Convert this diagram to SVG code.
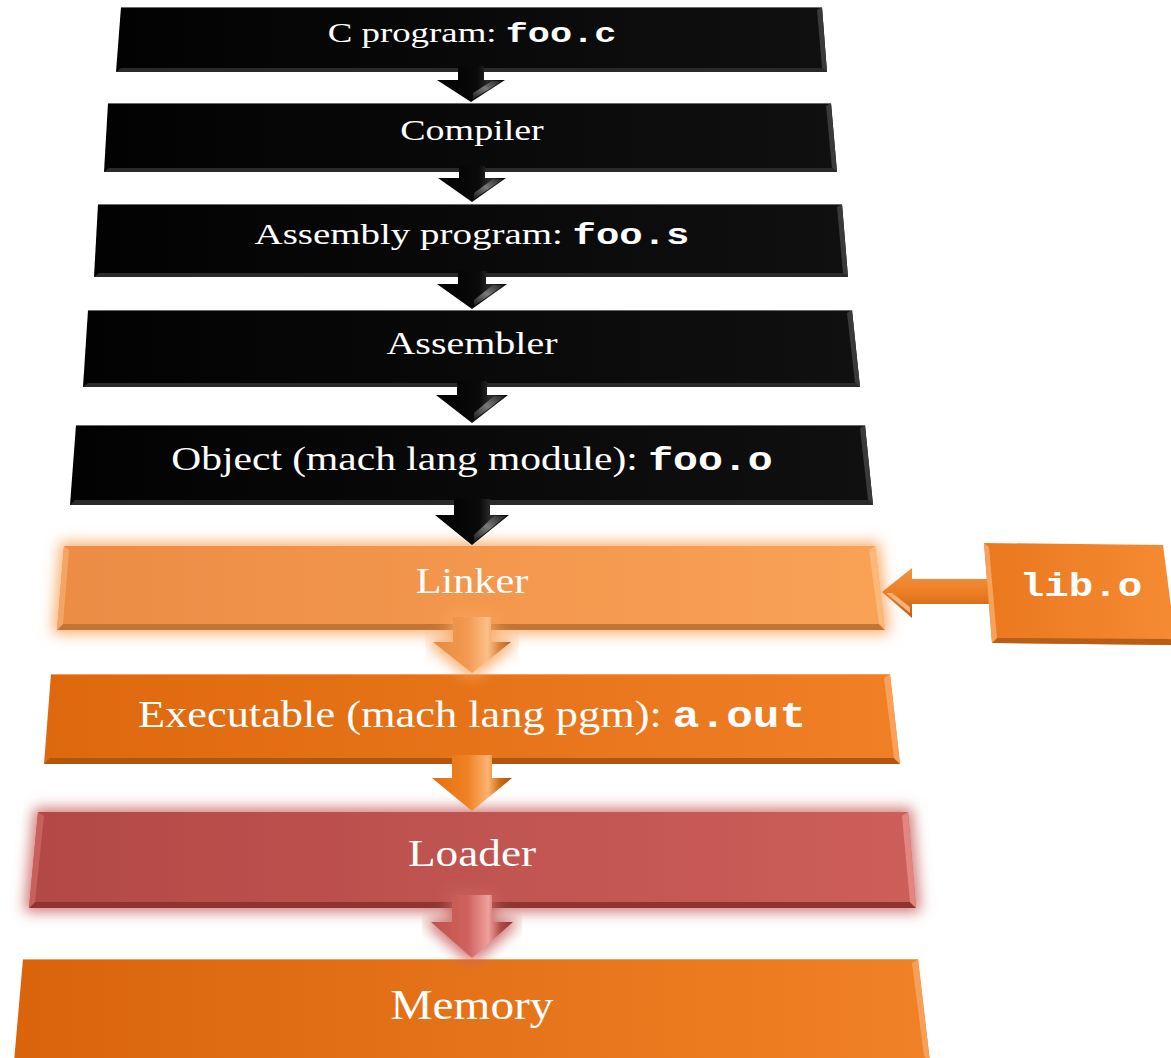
<svg xmlns="http://www.w3.org/2000/svg" width="1171" height="1058" viewBox="0 0 1171 1058">
<defs>
<style>
.t{font-family:"Liberation Serif","Times New Roman",serif;fill:#fff}
.m{font-family:"Liberation Mono","Courier New",monospace;font-weight:bold}
.bk{fill:url(#gBlack)}
.bkB{fill:#2a2a2a}
.bkR{fill:#3a3a3a}
.bkT{fill:none;stroke:#6a6a6a;stroke-width:1}
.arB{fill:url(#gArBlack)}
.hiB{fill:url(#gHiBlack)}
</style>
<linearGradient id="gBlack" x1="0" y1="0" x2="1" y2="0"><stop offset="0" stop-color="#020202"/><stop offset="1" stop-color="#101010"/></linearGradient>
<linearGradient id="gArBlack" x1="0" y1="0" x2="1" y2="0"><stop offset="0" stop-color="#000"/><stop offset="0.6" stop-color="#0a0a0a"/><stop offset="0.75" stop-color="#2a2a2a"/><stop offset="1" stop-color="#000"/></linearGradient>
<linearGradient id="gHiBlack" x1="0" y1="1" x2="1" y2="0"><stop offset="0" stop-color="#1a1a1a"/><stop offset="0.5" stop-color="#7a7a7a"/><stop offset="1" stop-color="#202020"/></linearGradient>
<linearGradient id="gLink" x1="0" y1="0" x2="1" y2="0"><stop offset="0" stop-color="#EC8C45"/><stop offset="1" stop-color="#F9A256"/></linearGradient>
<linearGradient id="gExe" x1="0" y1="0" x2="1" y2="0"><stop offset="0" stop-color="#DE680E"/><stop offset="1" stop-color="#F07F25"/></linearGradient>
<linearGradient id="gLoad" x1="0" y1="0" x2="1" y2="0"><stop offset="0" stop-color="#B34946"/><stop offset="1" stop-color="#CD5E5A"/></linearGradient>
<linearGradient id="gMem" x1="0" y1="0" x2="1" y2="0"><stop offset="0" stop-color="#D9640B"/><stop offset="1" stop-color="#F18126"/></linearGradient>
<linearGradient id="gLib" x1="0" y1="0" x2="1" y2="0"><stop offset="0" stop-color="#EA781E"/><stop offset="1" stop-color="#F58B33"/></linearGradient>
<linearGradient id="gArLink" x1="0" y1="0" x2="1" y2="0"><stop offset="0" stop-color="#E88A40"/><stop offset="0.45" stop-color="#F29A52"/><stop offset="0.7" stop-color="#FBC08A"/><stop offset="0.85" stop-color="#D9853E"/><stop offset="1" stop-color="#B5621E"/></linearGradient>
<linearGradient id="gArExe" x1="0" y1="0" x2="1" y2="0"><stop offset="0" stop-color="#E2700F"/><stop offset="0.45" stop-color="#F08225"/><stop offset="0.7" stop-color="#FBB470"/><stop offset="0.85" stop-color="#D06A14"/><stop offset="1" stop-color="#A8520C"/></linearGradient>
<linearGradient id="gArLoad" x1="0" y1="0" x2="1" y2="0"><stop offset="0" stop-color="#BF514E"/><stop offset="0.45" stop-color="#D0625E"/><stop offset="0.7" stop-color="#F0A09C"/><stop offset="0.85" stop-color="#B04A47"/><stop offset="1" stop-color="#8C3533"/></linearGradient>
<linearGradient id="gArLib" x1="0" y1="0" x2="0" y2="1"><stop offset="0" stop-color="#F39343"/><stop offset="0.5" stop-color="#EC7E24"/><stop offset="1" stop-color="#B85E15"/></linearGradient>
<filter id="glowO" x="-10%" y="-40%" width="120%" height="180%">
<feMorphology in="SourceAlpha" operator="dilate" radius="4" result="d"/>
<feGaussianBlur in="d" stdDeviation="7" result="b"/>
<feFlood flood-color="#F8A35C" flood-opacity="0.85"/>
<feComposite in2="b" operator="in" result="g"/>
<feMerge><feMergeNode in="g"/><feMergeNode in="SourceGraphic"/></feMerge>
</filter>
<filter id="glowR" x="-10%" y="-40%" width="120%" height="180%">
<feMorphology in="SourceAlpha" operator="dilate" radius="4" result="d"/>
<feGaussianBlur in="d" stdDeviation="7" result="b"/>
<feFlood flood-color="#C9625E" flood-opacity="0.85"/>
<feComposite in2="b" operator="in" result="g"/>
<feMerge><feMergeNode in="g"/><feMergeNode in="SourceGraphic"/></feMerge>
</filter>
</defs>
<rect width="1171" height="1058" fill="#fff"/>

<g id="node-cprog">
<polygon class="bk" points="121,7 822,7 827,72 116,72"/>
<polygon class="bkB" points="116,72 827,72 822,68 121,68"/>
<polygon class="bkR" points="822,7 827,72 822,68 817,10"/>
<line class="bkT" x1="121" y1="7.5" x2="822" y2="7.5"/>
<text class="t" font-size="27.5" text-anchor="middle" transform="translate(472,42) scale(1.34,1)">C program: <tspan class="m">foo.c</tspan></text>
</g>
<g id="node-compiler">
<polygon class="bk" points="108,103 831,103 837,172 104,172"/>
<polygon class="bkB" points="104,172 837,172 832,168 109,168"/>
<polygon class="bkR" points="831,103 837,172 832,168 826,106"/>
<line class="bkT" x1="108" y1="103.5" x2="831" y2="103.5"/>
<text class="t" font-size="29" text-anchor="middle" transform="translate(472,140) scale(1.31,1)">Compiler</text>
</g>
<g id="node-asmprog">
<polygon class="bk" points="98,204 842,204 848,277 94,277"/>
<polygon class="bkB" points="94,277 848,277 843,273 99,273"/>
<polygon class="bkR" points="842,204 848,277 843,273 837,207"/>
<line class="bkT" x1="98" y1="204.5" x2="842" y2="204.5"/>
<text class="t" font-size="30.2" text-anchor="middle" transform="translate(472,244) scale(1.29,1)">Assembly program: <tspan class="m">foo.s</tspan></text>
</g>
<g id="node-assembler">
<polygon class="bk" points="88,310 852,310 860,387 83,387"/>
<polygon class="bkB" points="83,387 860,387 855,383 88,383"/>
<polygon class="bkR" points="852,310 860,387 855,383 847,313"/>
<line class="bkT" x1="88" y1="310.5" x2="852" y2="310.5"/>
<text class="t" font-size="31.5" text-anchor="middle" transform="translate(472,354) scale(1.27,1)">Assembler</text>
</g>
<g id="node-object">
<polygon class="bk" points="76,425 865,425 873,505 70,505"/>
<polygon class="bkB" points="70,505 873,505 868,500 75,500"/>
<polygon class="bkR" points="865,425 873,505 868,500 860,428"/>
<line class="bkT" x1="76" y1="425.5" x2="865" y2="425.5"/>
<text class="t" font-size="33.2" text-anchor="middle" transform="translate(472,470) scale(1.25,1)">Object (mach lang module): <tspan class="m">foo.o</tspan></text>
</g>
<g id="node-linker">
<polygon fill="url(#gLink)" filter="url(#glowO)" points="64,546 875,546 885,630 57,630"/>
<polygon fill="#C27434" points="57,630 885,630 879,624 63,624"/>
<polygon fill="#FBB878" points="875,546 885,630 879,624 869,550"/>
<polygon fill="#F4A566" points="64,546 57,630 63,624 69,550"/>
<text class="t" font-size="35.5" text-anchor="middle" transform="translate(472,593) scale(1.19,1)">Linker</text>
</g>
<g id="node-exe">
<polygon fill="url(#gExe)" points="51,674 890,674 900,764 44,764"/>
<polygon fill="#B0560E" points="44,764 900,764 894,758 50,758"/>
<polygon fill="#F9A15A" points="890,674 900,764 894,758 884,678"/>
<line stroke="#F4A060" stroke-width="1" x1="51" y1="674.5" x2="890" y2="674.5"/>
<text class="t" font-size="37" text-anchor="middle" transform="translate(472,727) scale(1.2,1)">Executable (mach lang pgm): <tspan class="m">a.out</tspan></text>
</g>
<g id="node-loader">
<polygon fill="url(#gLoad)" filter="url(#glowR)" points="38,812 908,812 916,908 29,908"/>
<polygon fill="#8E3532" points="29,908 916,908 910,902 35,902"/>
<polygon fill="#E28680" points="908,812 916,908 910,902 902,816"/>
<polygon fill="#C8615D" points="38,812 29,908 35,902 44,816"/>
<text class="t" font-size="38" text-anchor="middle" transform="translate(472,866) scale(1.19,1)">Loader</text>
</g>
<g id="node-memory">
<polygon fill="url(#gMem)" points="23,959 918,959 930,1062 14,1062"/>
<polygon fill="#F6A057" points="918,959 930,1062 924,1056 912,963"/>
<line stroke="#F0A060" stroke-width="1" x1="23" y1="959.5" x2="918" y2="959.5"/>
<text class="t" font-size="41.5" text-anchor="middle" transform="translate(472,1019) scale(1.14,1)">Memory</text>
</g>

<g id="connectors">
<path class="arB" d="M458,66 L484,66 L484,80 L505,80 L471,102 L437,80 L458,80 Z"/>
<path class="hiB" d="M473,99 L502,81 L492,81 L473,93 Z"/>
<path class="arB" d="M459,166 L485,166 L485,178 L506,178 L472,202 L438,178 L459,178 Z"/>
<path class="hiB" d="M474,199 L503,179 L493,179 L474,193 Z"/>
<path class="arB" d="M458,271 L486,271 L486,284 L507,284 L472,309 L437,284 L458,284 Z"/>
<path class="hiB" d="M474,306 L504,285 L493,285 L474,300 Z"/>
<path class="arB" d="M457,381 L487,381 L487,395 L508,395 L472,423 L436,395 L457,395 Z"/>
<path class="hiB" d="M474,420 L505,396 L494,396 L474,413 Z"/>
<path class="arB" d="M454,499 L490,499 L490,515 L509,515 L472,545 L435,515 L454,515 Z"/>
<path class="hiB" d="M474,542 L506,516 L494,516 L474,535 Z"/>
<g filter="url(#glowO)">
<path fill="url(#gArLink)" d="M453,617 L491,617 L491,642 L511,642 L472,673 L433,642 L453,642 Z"/>
</g>
<path fill="url(#gArExe)" d="M452,755 L492,755 L492,778 L512,778 L472,811 L432,778 L452,778 Z"/>
<g filter="url(#glowR)">
<path fill="url(#gArLoad)" d="M452,895 L492,895 L492,922 L513,922 L472,958 L431,922 L452,922 Z"/>
</g>
<path fill="url(#gArLib)" d="M992,579 L912,579 L912,568 L882,592 L912,618 L912,604 L992,604 Z"/>
<path fill="#F7B27A" d="M886,593 L910,613 L910,607 L892,593 Z"/>
</g>

<g id="node-lib">
<polygon fill="url(#gLib)" points="984,543 1163,545 1176,645 992,643"/>
<polygon fill="#B85E15" points="992,643 1176,645 1170,639 997,638"/>
<polygon fill="#F7A25A" points="984,543 992,643 997,638 989,547"/>
<text class="t m" font-size="34" text-anchor="middle" transform="translate(1081,596) scale(1.2,1)">lib.o</text>
</g>
</svg>
